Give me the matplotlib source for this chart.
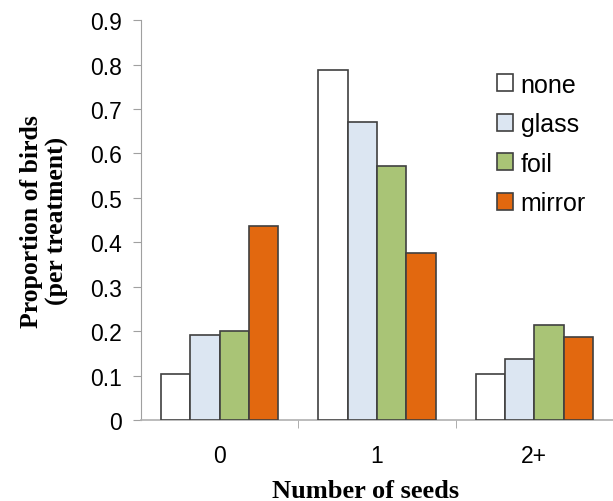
import numpy as np
import matplotlib.pyplot as plt

# data
categories = ['0', '1', '2+']
treatments = ['none', 'glass', 'foil', 'mirror']
none_vals = [0.104, 0.788, 0.104]
glass_vals = [0.191, 0.671, 0.137]
foil_vals = [0.200, 0.572, 0.214]
mirror_vals = [0.437, 0.376, 0.187]

colors = ['#ffffff', '#dce6f2', '#a9c476', '#e2680f']
series = [none_vals, glass_vals, foil_vals, mirror_vals]

fig = plt.figure(figsize=(6.13, 5.02), dpi=100)
ax = fig.add_axes([0.230, 0.161, 0.770, 0.797])

x = np.arange(len(categories))
w = 0.186
for i, (vals, col, lab) in enumerate(zip(series, colors, treatments)):
    ax.bar(x + (i - 1.5) * w, vals, w, color=col, edgecolor='#404040',
           linewidth=1.2, label=lab, zorder=3)

ax.set_xlim(-0.5, 2.5)
ax.set_ylim(0, 0.9)
ax.set_yticks(np.arange(0, 0.91, 0.1))
ax.set_yticklabels(['0'] + [f'{v:.1f}' for v in np.arange(0.1, 0.91, 0.1)])
ax.set_xticks(x)
ax.set_xticklabels(categories)
ax.set_xticks([0.5, 1.5], minor=True)
ax.tick_params(axis='x', which='major', length=0, pad=17, labelsize=16.5)
ax.tick_params(axis='x', which='minor', length=6, color='#a0a0a0', direction='out')
ax.tick_params(axis='y', labelsize=16.5, length=6, color='#a0a0a0', direction='out', pad=8)
for lab in ax.get_xticklabels() + ax.get_yticklabels():
    lab.set_fontfamily('Liberation Sans')

ax.spines['top'].set_visible(False)
ax.spines['right'].set_visible(False)
ax.spines['left'].set_color('#a0a0a0')
ax.spines['bottom'].set_color('#b0b0b0')
ax.spines['bottom'].set_linewidth(1.2)

ax.set_ylabel('Proportion of birds\n(per treatment)', fontfamily='Liberation Serif',
              fontweight='bold', fontsize=18.5, linespacing=1.15)
ax.yaxis.set_label_coords(-0.205, 0.5)
ax.yaxis.label.set_va('center')
ax.set_xlabel('Number of seeds', fontfamily='Liberation Serif',
              fontweight='bold', fontsize=19)
ax.xaxis.set_label_coords(0.475, -0.175)
ax.xaxis.label.set_va('center')

ax.legend(loc='upper right', bbox_to_anchor=(0.99, 0.925), frameon=False,
          prop={'family': 'Liberation Sans', 'size': 18}, handlelength=0.65,
          handleheight=0.65, handletextpad=0.3, labelspacing=0.62)

plt.savefig('out.png', dpi=100)
